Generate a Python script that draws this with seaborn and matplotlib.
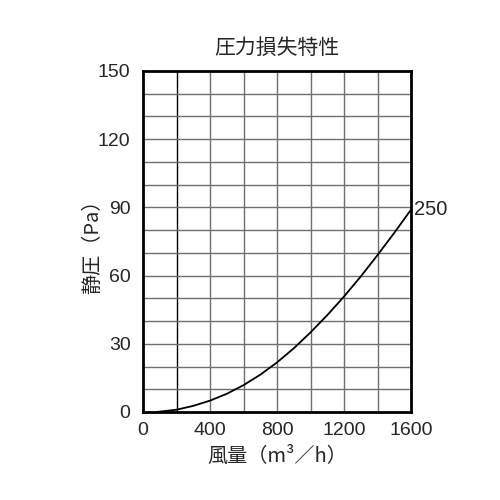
import numpy as np
import pandas as pd
import matplotlib
matplotlib.use('Agg')
import matplotlib.pyplot as plt
import seaborn as sns

# 読み取り値（風量 m3/h と静圧 Pa）
airflow = [80, 200, 300, 400, 500, 600, 700, 800, 900, 1000, 1100, 1200, 1300, 1400, 1500, 1600]
pressure = [0.0, 1.0, 2.7, 5.0, 8.0, 11.8, 16.4, 21.8, 28.0, 35.0, 42.6, 50.8, 59.6, 69.0, 78.8, 89.0]
curve_label = '250'

x_ticks = [0, 400, 800, 1200, 1600]
y_ticks = [0, 30, 60, 90, 120, 150]

sns.set_theme(style='white')
plt.rcParams['font.family'] = ['Liberation Sans', 'Noto Sans CJK JP', 'DejaVu Sans']

df = pd.DataFrame({'風量': airflow, '静圧': pressure})

fig = plt.figure(figsize=(5, 5), dpi=100)
ax = fig.add_axes([0.286, 0.176, 0.536, 0.682])

# グリッド
for gx in range(200, 1600, 200):
    ax.axvline(gx, color='black' if gx == 200 else '#6e6e6e', lw=1.0, zorder=1)
for gy in range(10, 150, 10):
    ax.axhline(gy, color='#6e6e6e', lw=1.0, zorder=1)

sns.lineplot(data=df, x='風量', y='静圧', ax=ax, color='black', lw=1.3, zorder=3)
ax.text(1620, pressure[-1], curve_label, fontsize=14.5, va='center', ha='left')

ax.set_xlim(0, 1600)
ax.set_ylim(0, 150)
ax.set_xticks(x_ticks)
ax.set_yticks(y_ticks)
ax.tick_params(labelsize=14, length=0)
ax.tick_params(axis='x', pad=7)
ax.tick_params(axis='y', pad=9)
for s in ax.spines.values():
    s.set_color('black')
    s.set_linewidth(2)

ax.set_title('圧力損失特性', fontsize=15, pad=12, family=['Noto Sans CJK JP'])
ax.set_xlabel('風量（m³／h）', fontsize=14.5, family=['Noto Sans CJK JP'])
ax.set_ylabel('静圧（Pa）', fontsize=14.5, family=['Noto Sans CJK JP'])
ax.xaxis.set_label_coords(0.5, -0.1)
ax.yaxis.set_label_coords(-0.15, 0.5)

fig.savefig('out.png', dpi=100)
